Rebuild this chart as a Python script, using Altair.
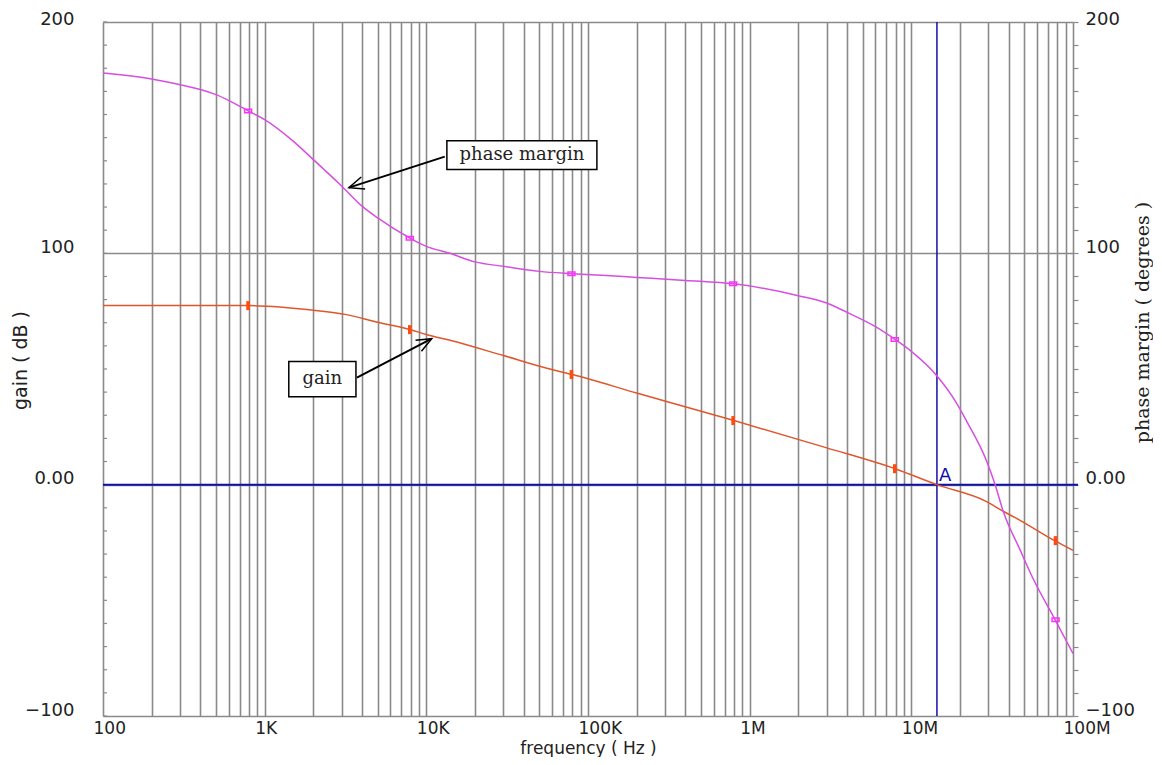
import altair as alt
import pandas as pd

# ---------------- data ----------------
phase_freq = [100, 200, 300, 400, 500, 800, 1000, 1500, 2000, 3000, 4000, 5000, 8000, 10000, 14000,
              20000, 30000, 50000, 80000, 130000, 200000, 400000, 800000, 2e6, 3e6, 4e6, 6e6,
              8e6, 1e7, 1.45e7, 1.9e7, 2.2e7, 2.9e7, 3.3e7, 3.7e7, 4.7e7, 5.7e7, 7.7e7, 1e8]
phase_deg = [178.0, 175.4, 172.9, 170.8, 168.6, 161.4, 157.8, 148.5, 140.5, 129.0, 120.4, 115.3, 106.4, 103.0, 100.0,
             96.3, 94.4, 92.2, 91.2, 90.4, 89.6, 88.3, 86.8, 81.7, 78.5, 74.5, 68.3,
             62.6, 57.6, 46.8, 35.4, 27.4, 10.8, 0.0, -11.5, -28.1, -41.0, -58.0, -73.0]

gain_freq = [100, 400, 800, 2000, 3200, 5000, 8000, 10000, 14000, 30000, 58000, 80000, 200000,
             800000, 3e6, 8e6, 1.44e7, 2.9e7, 3.7e7, 4.7e7, 7.7e7, 1e8]
gain_db = [77.4, 77.4, 77.4, 75.4, 73.5, 70.2, 67.0, 64.9, 62.4, 55.8, 50.0, 47.6, 39.6,
           27.7, 15.9, 6.8, 0.0, -7.2, -11.5, -15.4, -24.2, -28.4]

marker_freq = [790, 7900, 79000, 790000, 7.9e6, 7.8e7]
phase_marker = [161.5, 106.5, 91.2, 86.8, 62.8, -58.4]
gain_marker = [77.4, 67.0, 47.6, 27.7, 6.9, -24.2]

unity_freq = 1.44e7

x_ticks = [m * 10 ** k for k in range(2, 8) for m in range(1, 10)] + [10 ** 8]
x_label_vals = [100, 1000, 10000, 100000, 1000000, 10000000, 100000000]
x_label_txt = ["100", "1K", "10K", "100K", "1M", "10M", "100M"]
y_label_vals = [200, 100, 0, -100]
y_label_txt = ["200", "100", "0.00", "\u2212100"]
y_minor = list(range(-100, 201, 10))

# annotations (data coordinates)
box_names = ["phase margin", "gain"]
box_x1 = [13400, 1410]
box_x2 = [113500, 3670]
box_y1 = [136.2, 38.0]
box_y2 = [148.7, 53.2]
box_tx = [39000, 2270]
box_ty = [142.4, 45.6]
arrow_x1 = [13000, 3720]
arrow_y1 = [141.8, 46.3]
arrow_x2 = [3320, 10800]
arrow_y2 = [128.4, 63.1]
arrow_angle = [162, 332]

# ---------------- styles ----------------
GRID = "#8a8a8a"
BLUE = "#1010a8"
GAIN_C = "#e0562c"
GAIN_M = "#ff4a10"
PHASE_C = "#d64fe0"
PHASE_M = "#ff30ff"
SANS = "DejaVu Sans"
SERIF = "DejaVu Serif"

W, H = 970, 694

x_expr = " : ".join(f"datum.value == {v} ? '{t}'" for v, t in zip(x_label_vals, x_label_txt)) + " : ''"
y_expr = " : ".join(f"datum.value == {v} ? '{t}'" for v, t in zip(y_label_vals, y_label_txt)) + " : ''"
y_label_shift = {"condition": {"test": "datum.value == 200", "value": -3}, "value": -6}

x_axis = alt.Axis(values=x_ticks, labelExpr=x_expr, grid=True, gridColor=GRID, gridWidth=1.6,
                  gridOpacity=1, ticks=False, domain=False, labelFont=SANS, labelFontSize=17,
                  labelColor="#222222", labelAlign="left", labelOffset=-10, labelFlush=False,
                  labelOverlap=False, labelPadding=4, labelBaseline="top",
                  title="frequency ( Hz )", titleFont=SANS, titleFontSize=17,
                  titleFontWeight="normal", titleColor="#222222", titleY=32,
                  titleBaseline="middle")
x_scale = alt.Scale(type="log", domain=[100, 1e8], nice=False)


def X(field="f"):
    return alt.X(f"{field}:Q", scale=x_scale, axis=x_axis)


y_scale = alt.Scale(domain=[-100, 200], nice=False, zero=False)
left_axis = alt.Axis(values=y_label_vals, labelExpr=y_expr, grid=True, gridColor=GRID, gridWidth=1.6,
                     gridOpacity=1, ticks=False, domain=False, labelFont=SANS, labelFontSize=18,
                     labelColor="#222222", labelPadding=29, labelOffset=y_label_shift,
                     labelOverlap=False, labelFlush=False, title="gain ( dB )", titleFont=SANS,
                     titleFontSize=19, titleFontWeight="normal", titleColor="#222222",
                     titleAngle=270, titleX=-83, titleY=338, titleAlign="center",
                     titleBaseline="middle")
right_axis = alt.Axis(orient="right", values=y_minor, labelExpr=y_expr, grid=False, ticks=True,
                      tickSize=5, tickColor=GRID, tickWidth=1.2, domain=False, labelFont=SANS,
                      labelFontSize=18, labelColor="#222222", labelPadding=7,
                      labelOffset=y_label_shift, labelOverlap=False, labelFlush=False,
                      title="phase margin ( degrees )", titleFont=SERIF, titleFontSize=19,
                      titleFontWeight="normal", titleColor="#222222", titleAngle=270,
                      titleX=69, titleY=300, titleAlign="center", titleBaseline="middle")


def YL(field="v"):
    return alt.Y(f"{field}:Q", scale=y_scale, axis=left_axis)


def YR(field="v"):
    return alt.Y(f"{field}:Q", scale=y_scale, axis=right_axis)


gain_df = pd.DataFrame({"f": gain_freq, "v": gain_db})
phase_df = pd.DataFrame({"f": phase_freq, "v": phase_deg})
gm_df = pd.DataFrame({"f": marker_freq, "v": gain_marker})
pm_df = pd.DataFrame({"f": marker_freq, "v": phase_marker})
minor_df = pd.DataFrame({"v": y_minor, "f": [100] * len(y_minor)})
zero_df = pd.DataFrame({"f": [100], "v": [0.0]})
unity_df = pd.DataFrame({"f": [unity_freq], "v": [0.0]})
box_df = pd.DataFrame({"name": box_names, "f": box_x1, "f2": box_x2, "v": box_y1, "v2": box_y2,
                       "tx": box_tx, "ty": box_ty})
arrow_df = pd.DataFrame({"f": arrow_x1, "v": arrow_y1, "f2": arrow_x2, "v2": arrow_y2,
                         "ang": arrow_angle})

# minor ticks on the left edge, pointing inward
minor_ticks = alt.Chart(minor_df).mark_rule(color=GRID, strokeWidth=1.2).encode(
    x=alt.value(0), x2=alt.value(4), y=YL())

zero_line = alt.Chart(zero_df).mark_rule(color=BLUE, strokeWidth=2).encode(
    x=alt.value(0), x2=alt.value(W + 5), y=YL())

unity_line = alt.Chart(unity_df).mark_rule(color=BLUE, strokeWidth=1.5).encode(x=X())

a_label = alt.Chart(unity_df).mark_text(text="A", font=SANS, fontSize=18, color=BLUE,
                                         align="left", baseline="bottom", dx=2, dy=0).encode(
    x=X(), y=YL())

gain_line = alt.Chart(gain_df).mark_line(color=GAIN_C, strokeWidth=1.5, interpolate="monotone").encode(
    x=X(), y=YL())
gain_marks = alt.Chart(gm_df).mark_point(shape="M-0.4,-1H0.4V1H-0.4Z", size=81, filled=True,
                                         color=GAIN_M, opacity=1).encode(x=X(), y=YL())

boxes = alt.Chart(box_df).mark_rect(fill="white", stroke="black", strokeWidth=1.5).encode(
    x=X(), x2="f2:Q", y=YL(), y2="v2:Q")
box_text = alt.Chart(box_df).mark_text(font=SERIF, fontSize=18, color="#222222",
                                       align="center", baseline="middle").encode(
    x=X("tx"), y=YL("ty"), text="name:N")
arrows = alt.Chart(arrow_df).mark_rule(color="black", strokeWidth=2).encode(
    x=X(), x2="f2:Q", y=YL(), y2="v2:Q")
heads = alt.Chart(arrow_df).mark_point(shape="M-1,-0.42L0,0L-1,0.42", size=900, filled=False,
                                       color="black", strokeWidth=1.5, opacity=1).encode(
    x=X("f2"), y=YL("v2"), angle=alt.Angle("ang:Q", scale=None))

left_group = alt.layer(minor_ticks, zero_line, unity_line, gain_line, gain_marks,
                       boxes, box_text, arrows, heads, a_label)

phase_line = alt.Chart(phase_df).mark_line(color=PHASE_C, strokeWidth=1.5, interpolate="monotone").encode(
    x=X(), y=YR())
phase_marks = alt.Chart(pm_df).mark_point(shape="M-1,-0.5H1V0.5H-1Z", size=49, filled=False,
                                          color=PHASE_M, strokeWidth=1.5, opacity=1).encode(
    x=X(), y=YR())
right_group = alt.layer(phase_line, phase_marks)

chart = alt.layer(left_group, right_group).resolve_scale(y="independent").properties(
    width=W, height=H,
    autosize=alt.AutoSizeParams(type="none"),
    padding={"left": 95, "top": 14, "right": 80, "bottom": 41},
    background="white",
).configure_view(stroke=None)

chart.save("out.html", embed_options={"renderer": "svg", "actions": False})
